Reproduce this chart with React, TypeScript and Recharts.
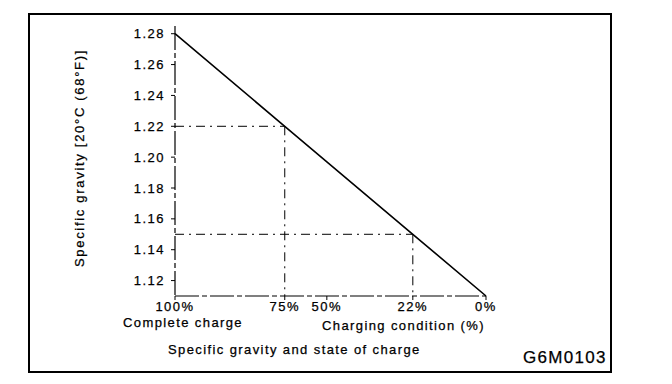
import React from 'react';
import { LineChart, Line, XAxis, YAxis, ReferenceLine, Customized } from 'recharts';

// state of charge labels and the specific gravity each one sits at
const chargeLabels = ['100%', '75%', '50%', '22%', '0%'];
const chargeGravity = [1.28, 1.22, 1.197, 1.15, 1.11];

// y axis ticks
const gravityTicks = [1.12, 1.14, 1.16, 1.18, 1.2, 1.22, 1.24, 1.26, 1.28];

// dashed read-off guides (75% and 22%)
const guideGravity = [1.22, 1.15];

const data = chargeGravity.map((g) => ({ g, sg: g }));

const FONT = '"Liberation Sans", Arial, Helvetica, sans-serif';
const tickStyle = { fill: '#000', stroke: '#000', strokeWidth: 0.25, fontSize: 13, fontFamily: FONT, letterSpacing: 1.5 };
const textStyle = { fill: '#000', stroke: '#000', strokeWidth: 0.25, fontSize: 13, fontFamily: FONT, letterSpacing: 1.4 };

const chargeLabel = (v: number) => {
  const i = chargeGravity.indexOf(v);
  return i >= 0 ? chargeLabels[i] : '';
};

const Annotations = () => (
  <g>
    <rect x={29} y={14} width={582} height={358} fill="none" stroke="#000" strokeWidth={2} />
    <text
      transform="translate(84,158) rotate(-90)"
      textAnchor="middle"
      style={{ ...textStyle, letterSpacing: 1.7 }}
    >
      Specific gravity [20°C (68°F)]
    </text>
    <text x={123} y={327} style={textStyle}>Complete charge</text>
    <text x={322} y={330} style={textStyle}>Charging condition (%)</text>
    <text x={168} y={354} style={textStyle}>Specific gravity and state of charge</text>
    <text x={523} y={363} style={{ ...textStyle, fontSize: 17, letterSpacing: 1.3 }}>G6M0103</text>
  </g>
);

export default function App() {
  return (
    <div style={{ position: 'absolute', left: 0, top: 0, width: 672, height: 384, background: '#fff' }}>
      <LineChart width={672} height={384} data={data} margin={{ top: 26, right: 186, bottom: 58, left: 0 }}>
        <XAxis
          type="number"
          dataKey="g"
          domain={[1.11, 1.28]}
          reversed
          ticks={chargeGravity}
          interval={0}
          tickFormatter={chargeLabel}
          height={30}
          tickSize={4}
          tickMargin={2}
          tick={tickStyle}
          stroke="#000"
          axisLine={{ stroke: '#000', strokeWidth: 1.2, strokeDasharray: '24 3 5 3' }}
          tickLine={{ stroke: '#000' }}
        />
        <YAxis
          type="number"
          domain={[1.11, 1.285]}
          ticks={gravityTicks}
          interval={0}
          tickFormatter={(v: number) => v.toFixed(2)}
          width={175}
          tickSize={4}
          tickMargin={6}
          tick={tickStyle}
          stroke="#000"
          axisLine={{ stroke: '#000', strokeWidth: 1.2, strokeDasharray: '24 3 5 3' }}
          tickLine={{ stroke: '#000' }}
        />
        {guideGravity.map((g) => (
          <ReferenceLine
            key={'h' + g}
            segment={[{ x: 1.28, y: g }, { x: g, y: g }]}
            stroke="#000"
            strokeWidth={1}
            strokeDasharray="9 5 2 5"
          />
        ))}
        {guideGravity.map((g) => (
          <ReferenceLine
            key={'v' + g}
            segment={[{ x: g, y: g }, { x: g, y: 1.11 }]}
            stroke="#000"
            strokeWidth={1}
            strokeDasharray="9 5 2 5"
          />
        ))}
        <Line
          type="linear"
          dataKey="sg"
          stroke="#000"
          strokeWidth={1.6}
          dot={false}
          isAnimationActive={false}
        />
        <Customized component={Annotations} />
      </LineChart>
    </div>
  );
}
